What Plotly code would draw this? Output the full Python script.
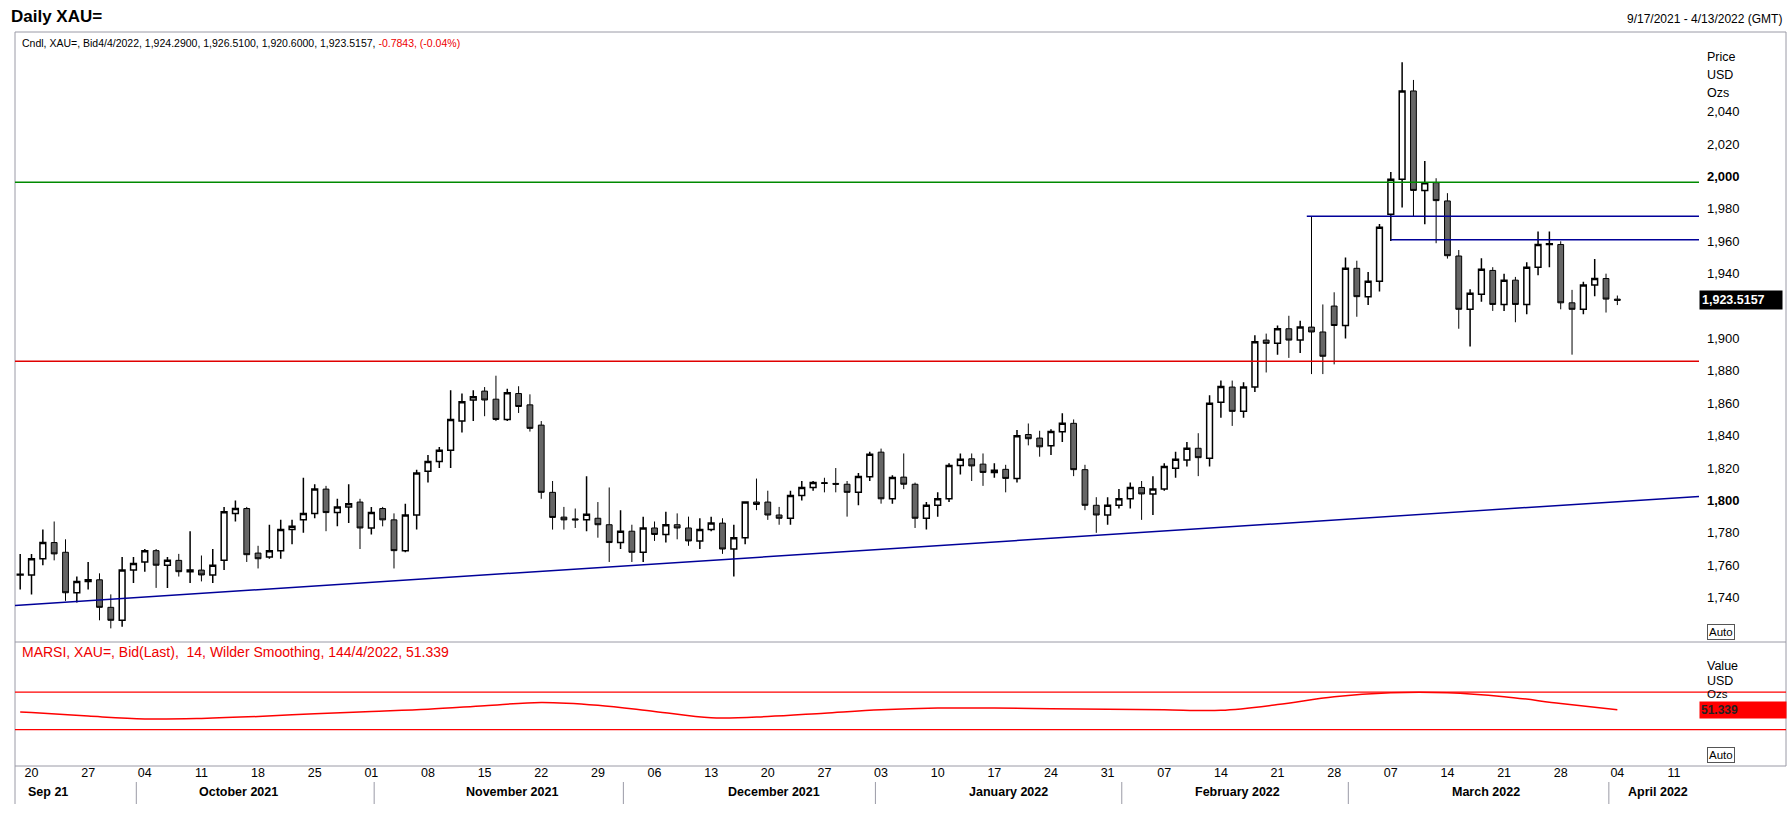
import pandas as pd
import plotly.graph_objects as go

# ---------------- data ----------------
trade_dates = pd.bdate_range("2021-09-17", "2022-04-04")

open_px = [1754, 1754, 1764, 1774, 1768, 1743, 1750, 1751, 1734, 1726,
           1757, 1762, 1769, 1760, 1763, 1756, 1757, 1754, 1763, 1792,
           1795, 1767.5, 1765, 1769, 1782, 1788, 1792, 1807, 1792.5, 1796,
           1799, 1783, 1795, 1788, 1769, 1791, 1818, 1824, 1831, 1849,
           1862, 1867.5, 1862.5, 1850, 1866, 1859, 1846.5, 1805, 1789.7, 1788.6,
           1788, 1789, 1785, 1774, 1781, 1768, 1783, 1779, 1785, 1783,
           1775, 1782, 1786, 1770, 1777, 1799, 1799, 1791, 1789, 1803,
           1808, 1811, 1810.5, 1810, 1805, 1814.6, 1829.8, 1801, 1814.4, 1810,
           1789, 1797, 1801, 1821.6, 1825.7, 1822.4, 1817.3, 1819.2, 1813.6, 1840.7,
           1838.5, 1833.8, 1842.4, 1847.6, 1819, 1797, 1791, 1797, 1801, 1808,
           1804, 1807, 1819.8, 1825, 1832.2, 1826, 1860.6, 1870, 1855, 1870,
           1899, 1897, 1906, 1899, 1907, 1904, 1920, 1908, 1943.3, 1925.8,
           1935.3, 1976.7, 1998.3, 2052.8, 1991.4, 1996.2, 1984.9, 1950.9, 1918, 1927.3,
           1942, 1921, 1936, 1921, 1944, 1958, 1958, 1922, 1918, 1933,
           1937, 1924.29]
high_px = [1767, 1767, 1782, 1787, 1776, 1753, 1762, 1755, 1742, 1765,
           1765, 1770, 1770, 1765, 1767, 1781, 1766, 1770, 1796, 1800,
           1796, 1772, 1785, 1788, 1788, 1814, 1810, 1809, 1801, 1810,
           1801, 1796, 1796, 1792, 1798, 1819, 1828, 1833, 1868, 1866,
           1868, 1870, 1877, 1869, 1870.5, 1865.5, 1849, 1812, 1796, 1795,
           1815, 1799, 1808, 1794, 1785, 1790, 1787, 1793, 1792, 1790,
           1789, 1790, 1789, 1785, 1799.5, 1813.5, 1806, 1796, 1806, 1812,
           1812, 1814, 1820, 1812, 1817, 1830, 1832, 1815.5, 1829, 1811,
           1799, 1805, 1823, 1829, 1829, 1829, 1823, 1822, 1843.5, 1847.5,
           1843, 1844, 1853.8, 1850, 1822, 1802, 1802, 1807, 1811, 1812,
           1815, 1823, 1830, 1836, 1841.5, 1865, 1874, 1874, 1873, 1902,
           1903, 1908, 1914, 1911, 1975, 1921, 1928.5, 1950, 1948, 1941,
           1970.7, 2002.8, 2070.6, 2059.6, 2009.6, 1998.9, 1989.7, 1954.6, 1930.4, 1949.5,
           1944, 1940, 1938, 1947, 1966, 1966, 1960, 1930, 1935, 1949,
           1940, 1926.51]
low_px = [1745, 1742, 1760, 1763, 1738, 1737, 1745, 1726, 1721, 1722,
          1749, 1756, 1746, 1746, 1753, 1749, 1750, 1749, 1757, 1787,
          1762, 1758, 1764, 1764, 1773, 1780, 1789, 1781, 1784, 1786,
          1770, 1779, 1784, 1758, 1768, 1782, 1811, 1820, 1820, 1842,
          1849, 1852, 1849, 1849, 1854, 1842.5, 1801, 1782, 1782, 1783,
          1781, 1777, 1762, 1770, 1762, 1762, 1775, 1774, 1776, 1772,
          1770, 1781, 1767, 1753, 1773, 1794, 1788, 1785, 1785, 1800,
          1806, 1805, 1805, 1790, 1797, 1812, 1798, 1798, 1807, 1783,
          1782, 1790, 1799, 1816, 1812, 1809, 1814, 1805, 1811, 1834,
          1827, 1828, 1836, 1815, 1794, 1780, 1785, 1795, 1795, 1788,
          1791, 1806, 1814, 1821, 1815, 1821, 1851, 1846, 1851, 1867,
          1879, 1890, 1888, 1891, 1878, 1878, 1884, 1900, 1913.4, 1920.7,
          1929, 1960.2, 1980.8, 1975.6, 1970.5, 1958.8, 1949.3, 1906, 1895, 1922.7,
          1917, 1917, 1910, 1915, 1939, 1944, 1918, 1890, 1915, 1926,
          1916, 1920.60]
close_px = [1754.5, 1764, 1774, 1767, 1743, 1750, 1751, 1734, 1726, 1757,
            1761, 1769, 1760, 1763, 1756, 1757, 1754, 1760, 1793, 1795,
            1766.5, 1764, 1769, 1782, 1784, 1792, 1807, 1792.5, 1796, 1798,
            1783, 1792.5, 1788, 1769, 1791, 1817, 1824, 1831, 1850, 1861,
            1864, 1862, 1850, 1866.5, 1858, 1844.5, 1805, 1789.5, 1788, 1788,
            1791.4, 1785, 1774, 1781, 1768, 1783, 1779, 1785, 1783, 1775,
            1782, 1786, 1770, 1777, 1799, 1797.5, 1791, 1789, 1803, 1808,
            1811, 1810.5, 1810, 1805, 1814.8, 1828.5, 1801, 1814.2, 1810, 1789,
            1797, 1801, 1821.6, 1825.4, 1821.3, 1817.3, 1818.6, 1813.6, 1840, 1838.1,
            1833.1, 1842.6, 1847.6, 1819, 1797, 1791, 1797, 1801, 1808, 1804,
            1807, 1820.9, 1825.4, 1832.2, 1826.4, 1860, 1870.3, 1855, 1870, 1898,
            1897, 1906, 1899, 1907, 1904, 1889, 1908, 1943.3, 1925.8, 1935.3,
            1968.7, 1998.3, 2052.8, 1991.4, 1996.2, 1985.1, 1951.1, 1918, 1927.9, 1942.7,
            1921, 1936, 1921, 1944, 1958, 1958.5, 1922, 1918, 1933, 1937,
            1924.30, 1923.5157]

price_ticks = [1740, 1760, 1780, 1800, 1820, 1840, 1860, 1880, 1900, 1920,
               1940, 1960, 1980, 2000, 2020, 2040]
bold_ticks = [1800, 2000]

# MARSI indicator, read at weekly points
rsi_dates = ["2021-09-17", "2021-09-20", "2021-09-27", "2021-10-04", "2021-10-11",
             "2021-10-18", "2021-10-25", "2021-11-01", "2021-11-08", "2021-11-15",
             "2021-11-22", "2021-11-29", "2021-12-06", "2021-12-13", "2021-12-20",
             "2021-12-27", "2022-01-03", "2022-01-10", "2022-01-17", "2022-01-24",
             "2022-01-31", "2022-02-07", "2022-02-14", "2022-02-21", "2022-02-28",
             "2022-03-07", "2022-03-14", "2022-03-21", "2022-03-28", "2022-04-04"]
rsi_values = [48.8, 48.2, 44.5, 41.5, 42.0, 44.0, 47.0, 49.4, 51.8, 55.5,
              59.0, 56.0, 49.4, 42.7, 44.0, 47.6, 51.2, 53.0, 53.0, 52.4,
              51.8, 51.2, 50.6, 56.7, 65.2, 69.4, 69.4, 65.2, 57.9, 51.339]
rsi_bands = [70, 30]

# drawn levels
level_green = 1996.5
level_red = 1886.0
blue_levels = [1975.5, 1961.0]
blue_starts = ["2022-02-23 14:00", "2022-03-07 00:00"]
trend_values = [1735.2, 1802.5]

month_names = ["Sep 21", "October 2021", "November 2021", "December 2021",
               "January 2022", "February 2022", "March 2022", "April 2022"]

# ---------------- layout geometry (px) ----------------
W, H = 1788, 827
L, R, T, B = 15, 1699, 32, 766
SEP = 642
X_START, X_END = "2021-09-16 13:00", "2022-04-13 05:00"
month_label_pos = ["2021-09-21 11:30", "2021-10-14 07:00", "2021-11-17 11:00",
                   "2021-12-20 13:00", "2022-01-18 07:00", "2022-02-15 12:00",
                   "2022-03-17 10:00", "2022-04-07 14:00"]
month_sep_pos = ["2021-10-01 06:00", "2021-11-01 06:00", "2021-12-01 06:00",
                 "2021-12-31 12:00", "2022-02-01 06:00", "2022-03-01 06:00",
                 "2022-04-01 06:00"]


def px(x):
    return (x - L) / (R - L)


def py(y):
    return (B - y) / (B - T)


FONT = "Liberation Sans, Arial, sans-serif"
GRAY = "#9a9aa6"
split = py(SEP)

fig = go.Figure()
fig.add_trace(go.Candlestick(
    x=trade_dates, open=open_px, high=high_px, low=low_px, close=close_px,
    increasing=dict(line=dict(color="black", width=1.5), fillcolor="white"),
    decreasing=dict(line=dict(color="black", width=1), fillcolor="#666666"),
    whiskerwidth=0, xaxis="x", yaxis="y", hoverinfo="skip", showlegend=False))

fig.add_trace(go.Scatter(
    x=pd.to_datetime(rsi_dates), y=rsi_values, mode="lines",
    line=dict(color="#ff0000", width=1.5, shape="spline", smoothing=1.0),
    xaxis="x2", yaxis="y2", hoverinfo="skip", showlegend=False))

last_close = close_px[-1]
# the last-value box covers the tick label right next to it
shown_ticks = [v for v in price_ticks if abs(v - last_close) > 6]
ticktext = [("<b>{:,}</b>" if v in bold_ticks else "{:,}").format(v) for v in shown_ticks]

rb = [dict(bounds=["sat", "mon"])]
mondays = pd.date_range("2021-09-20", "2022-04-11", freq="W-MON")

fig.update_layout(
    width=W, height=H,
    margin=dict(l=L, r=W - R, t=T, b=H - B),
    paper_bgcolor="white", plot_bgcolor="white",
    font=dict(family=FONT, color="black", size=12),
    showlegend=False, boxgap=0.27,
    xaxis=dict(domain=[0, 1], anchor="y", range=[X_START, X_END], rangebreaks=rb,
               showticklabels=False, showgrid=False, zeroline=False, showline=False,
               rangeslider=dict(visible=False), ticks=""),
    xaxis2=dict(domain=[0, 1], anchor="y2", matches="x", rangebreaks=rb,
                tickvals=mondays, tickformat="%d", ticks="", showgrid=False,
                zeroline=False, showline=False, tickfont=dict(size=12.5),
                ticklabelstandoff=-3),
    yaxis=dict(domain=[split, 1], anchor="x", side="right", range=[1712.6, 2089.2],
               tickvals=shown_ticks, ticktext=ticktext, showgrid=False, zeroline=False,
               showline=False, ticks="", tickfont=dict(size=13), ticklabelstandoff=7),
    yaxis2=dict(domain=[0, split], anchor="x2", side="right", range=[-8.7, 123.4],
                showticklabels=False, showgrid=False, zeroline=False, showline=False),
)

shapes = []
line_gray = dict(color=GRAY, width=1)
shapes += [
    dict(type="line", xref="paper", yref="paper", x0=px(15), x1=px(1786), y0=py(T), y1=py(T), line=line_gray),
    dict(type="line", xref="paper", yref="paper", x0=px(15), x1=px(1786), y0=py(SEP), y1=py(SEP), line=line_gray),
    dict(type="line", xref="paper", yref="paper", x0=px(15), x1=px(1786), y0=py(B), y1=py(B), line=line_gray),
    dict(type="line", xref="paper", yref="paper", x0=px(15), x1=px(15), y0=py(T), y1=py(804), line=line_gray),
    dict(type="line", xref="paper", yref="paper", x0=px(1786), x1=px(1786), y0=py(T), y1=py(B), line=line_gray),
]
shapes += [
    dict(type="line", xref="paper", yref="y", x0=0, x1=1, y0=level_green, y1=level_green,
         line=dict(color="#008a00", width=1.5)),
    dict(type="line", xref="paper", yref="y", x0=0, x1=1, y0=level_red, y1=level_red,
         line=dict(color="#e00000", width=1.5)),
]
for lv, st in zip(blue_levels, blue_starts):
    shapes.append(dict(type="line", xref="x", yref="y", x0=st, x1=X_END, y0=lv, y1=lv,
                       line=dict(color="#000099", width=1.5)))
shapes.append(dict(type="line", xref="x", yref="y", x0=X_START, x1=X_END,
                   y0=trend_values[0], y1=trend_values[1],
                   line=dict(color="#000099", width=1.5)))
for b in rsi_bands:
    shapes.append(dict(type="line", xref="paper", yref="y2", x0=0, x1=px(1786), y0=b, y1=b,
                       line=dict(color="#ff0000", width=1.2)))
for d in month_sep_pos:
    shapes.append(dict(type="line", xref="x2", yref="paper", x0=d, x1=d, y0=py(782), y1=py(804),
                       line=dict(color=GRAY, width=1)))
fig.update_layout(shapes=shapes)

chg = close_px[-1] - close_px[-2]
pct = chg / close_px[-2] * 100
last_day = trade_dates[-1]
day_txt = f"{last_day.month}/{last_day.day}/{last_day.year}"

ann = []


def text(x, y, s, size=12, xanchor="left", color="black", **kw):
    ann.append(dict(xref="paper", yref="paper", x=px(x), y=py(y), text=s, showarrow=False,
                    xanchor=xanchor, yanchor="middle",
                    font=dict(size=size, family=FONT, color=color), **kw))


text(9, 17, "<b>Daily XAU=</b>", size=17)
text(1784, 19, "9/17/2021 - 4/13/2022 (GMT)", size=12, xanchor="right")
text(20, 43, (f"Cndl, XAU=, Bid{day_txt}, {open_px[-1]:,.4f}, {high_px[-1]:,.4f}, "
              f"{low_px[-1]:,.4f}, {last_close:,.4f}, "
              f"<span style='color:#ee0000'>{chg:.4f}, ({pct:.2f}%)</span>"), size=10.5)
text(1705, 57, "Price", size=12.5)
text(1705, 75, "USD", size=12.5)
text(1705, 93, "Ozs", size=12.5)
text(1707, 632, "Auto", size=11.5, bordercolor="#555555", borderwidth=1, borderpad=1)
text(20, 652, f"MARSI, XAU=, Bid(Last),  14, Wilder Smoothing, 14{day_txt}, {rsi_values[-1]:.3f}",
     size=14, color="#ee0000")
text(1705, 666, "Value", size=12.5)
text(1705, 681, "USD", size=12.5)
text(1705, 694, "Ozs", size=11.5)
text(1707, 755, "Auto", size=11.5, bordercolor="#555555", borderwidth=1, borderpad=1)
ann.append(dict(xref="paper", yref="y", x=px(1699), y=last_close, text=f"<b>{last_close:,.4f}</b>",
                showarrow=False, xanchor="left", yanchor="middle", bgcolor="black",
                font=dict(size=12.5, family=FONT, color="white"), borderpad=2, width=78, align="left"))
ann.append(dict(xref="paper", yref="y2", x=px(1699), y=rsi_values[-1], text=f"<b>{rsi_values[-1]:.3f}</b>",
                showarrow=False, xanchor="left", yanchor="middle", bgcolor="#ff0000",
                font=dict(size=12, family=FONT, color="#222222"), borderpad=1, width=84, align="left"))
for name, pos in zip(month_names, month_label_pos):
    ann.append(dict(xref="x2", yref="paper", x=pos, y=py(792), text=f"<b>{name}</b>",
                    showarrow=False, xanchor="center", yanchor="middle",
                    font=dict(size=12.5, family=FONT, color="black")))
fig.update_layout(annotations=ann)

fig.write_html("out.html", include_plotlyjs=True, full_html=True,
               config={"displayModeBar": False},
               post_script="document.body.style.margin='0';document.body.style.overflow='hidden';")
